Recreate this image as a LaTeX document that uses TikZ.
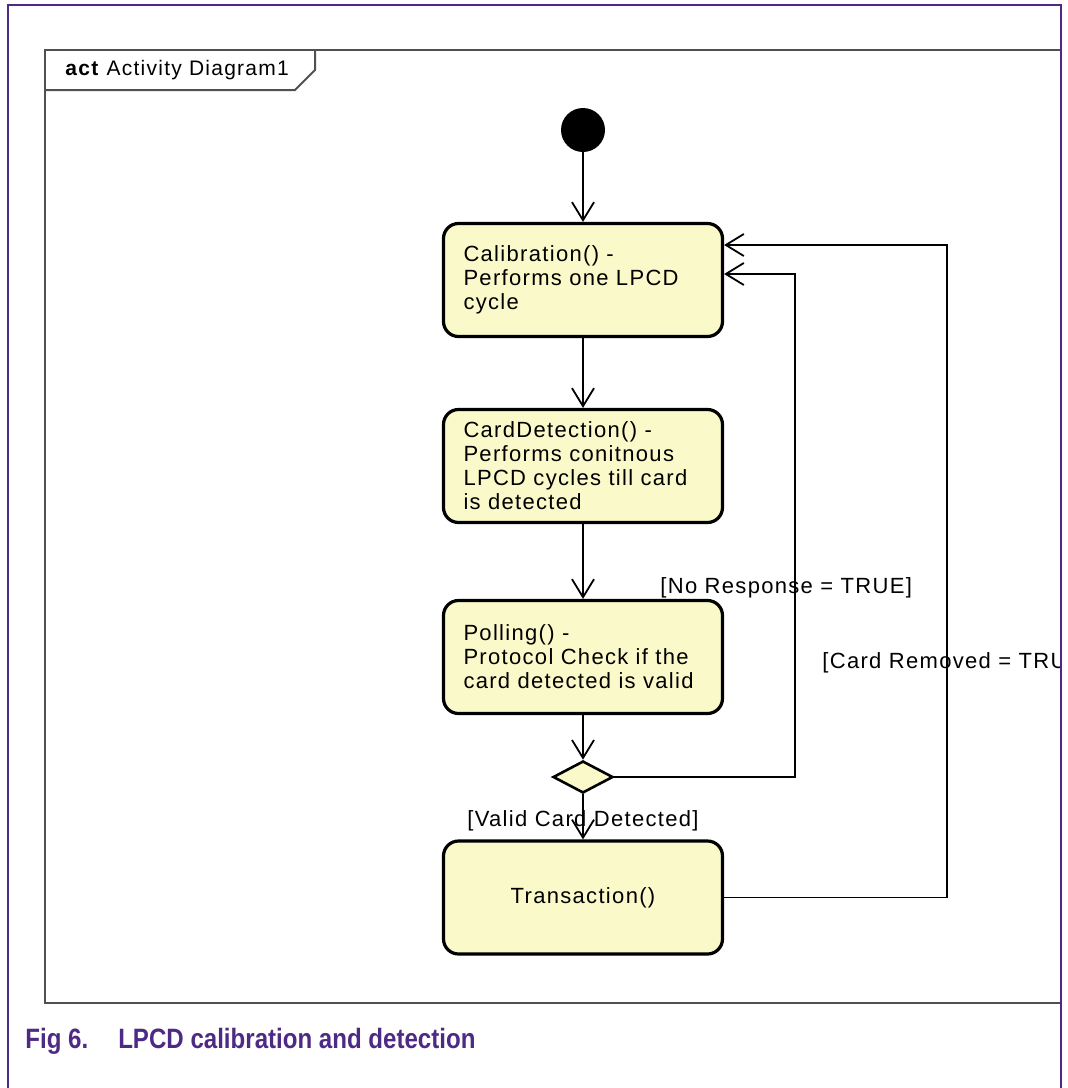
\documentclass[tikz,border=0pt]{standalone}
\usepackage{fontspec}
\setmainfont{Liberation Sans}[LetterSpace=6]
\newfontfamily\capfont{Liberation Sans}[FakeStretch=0.86]
\usetikzlibrary{arrows.meta,shapes.geometric,positioning}
\tikzset{>={Straight Barb[length=9pt,width=11pt]}}
\definecolor{y1}{HTML}{FAF9C9}
\definecolor{p1}{HTML}{4E2A84}
\definecolor{g1}{HTML}{505050}
\tikzstyle{action}=[draw,fill=y1,line width=1.6pt,rounded corners=7.5pt,minimum width=139.5pt,minimum height=56.5pt,inner xsep=10pt,text width=119.5pt,align=left,font=\fontsize{11}{12}\selectfont]
\tikzstyle{guard}=[inner sep=0pt,font=\fontsize{11}{12}\selectfont]
\tikzstyle{flow}=[->,line width=0.9pt]

\begin{document}
\begin{tikzpicture}[x=0.5pt,y=-0.5pt]
  \useasboundingbox (0,0) rectangle (1068,1088);
  \begin{scope}
    \clip (8,5) rectangle (1061,1088);
    % frame and tab
    \draw[g1,line width=1pt] (1061,50) -- (45,50) -- (45,1003) -- (1061,1003);
    \draw[g1,line width=1pt] (45,90) -- (295,90) -- (315,70) -- (315,50);
    \node[guard,anchor=west,font=\fontsize{10.5}{12}\selectfont] (title) at (65,70) {\textbf{act} Activity Diagram1};
    % actions
    \node[circle,fill=black,minimum size=22pt,inner sep=0pt] (start) at (583,130) {};
    \node[action] (cal) at (583,280) {Calibration() -\\Performs one LPCD\\cycle};
    \node[action] (det) at (583,466) {CardDetection() -\\Performs conitnous\\LPCD cycles till card\\is detected};
    \node[action] (poll) at (583,657) {Polling() -\\Protocol Check if the\\card detected is valid};
    \node[diamond,draw,fill=y1,line width=1.3pt,minimum width=30pt,minimum height=16pt,inner sep=0pt] (dec) at (583,777) {};
    \node[action,align=center] (trans) at (583,897.5) {Transaction()};
    % guards
    \node[guard,anchor=west] (noresp) at (660,588) {[No Response = TRUE]};
    \node[guard,anchor=west] (removed) at (822,663) {[Card Removed = TRUE]};
    \node[guard,above=4pt of trans] (valid) {[Valid Card Detected]};
    % flows
    \coordinate (ret1) at (795,274);
    \coordinate (ret2) at (947,245);
    \draw[flow] (start) -- (cal);
    \draw[flow] (cal) -- (det);
    \draw[flow] (det) -- (poll);
    \draw[flow] (poll) -- (dec);
    \draw[flow] (dec) -- (trans);
    \draw[flow] (dec.east) -| (ret1) -- (cal.east |- ret1);
    \draw[flow] (trans.east) -| (ret2) -- (cal.east |- ret2);
  \end{scope}
  \draw[p1,line width=1pt] (8,1088) -- (8,5) -- (1061,5) -- (1061,1088);
  \node[anchor=west,inner sep=0pt,text=p1,font=\capfont\bfseries\fontsize{14}{16}\selectfont] (cap) at (25,1041) {Fig 6.\hspace{15pt}LPCD calibration and detection};
\end{tikzpicture}
\end{document}
